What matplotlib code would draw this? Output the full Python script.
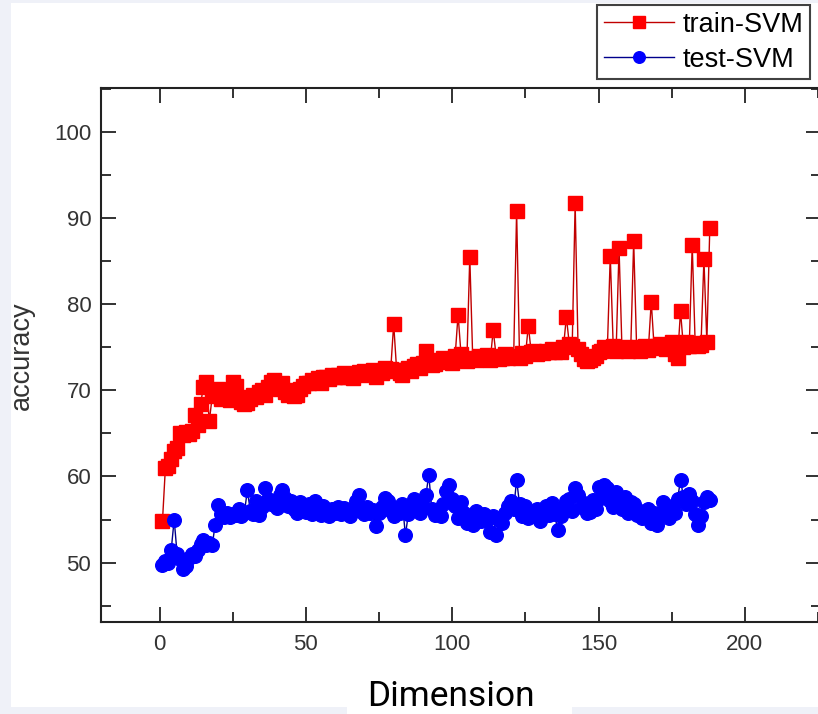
import matplotlib
matplotlib.use("Agg")
import matplotlib.pyplot as plt
from matplotlib.patches import Rectangle
from matplotlib.ticker import MultipleLocator

dimension = list(range(1, 189))

train_svm = [
    54.8, 61.0, 61.2, 62.0, 62.9, 63.3, 65.0, 64.8, 65.2, 64.9,
    65.3, 67.1, 66.0, 68.4, 70.4, 71.0, 66.4, 69.3, 69.8, 70.2,
    69.0, 70.0, 69.5, 68.9, 71.0, 70.5, 69.2, 68.6, 68.4, 68.5,
    69.0, 69.5, 69.2, 69.8, 70.0, 69.5, 70.4, 71.0, 71.2, 70.6,
    70.2, 70.8, 69.8, 69.5, 70.0, 69.3, 69.4, 70.2, 70.5, 70.8,
    70.9, 71.2, 71.0, 71.4, 70.9, 71.5, 71.6, 71.3, 71.8, 71.6,
    71.8, 71.6, 72.0, 71.5, 71.7, 71.4, 71.9, 72.1, 71.8, 72.3,
    71.9, 72.0, 72.4, 71.6, 72.2, 72.0, 72.6, 72.3, 72.5, 77.7,
    72.4, 72.0, 71.8, 72.4, 72.6, 72.2, 72.8, 73.0, 72.6, 73.2,
    74.6, 73.4, 72.9, 73.0, 73.5, 73.3, 73.8, 73.4, 73.6, 73.2,
    74.0, 78.8, 74.2, 73.6, 73.4, 85.5, 73.8, 73.5, 74.0, 73.6,
    73.9, 74.1, 73.5, 77.0, 74.0, 73.6, 73.8, 74.2, 73.7, 73.9,
    74.0, 90.8, 73.8, 74.3, 74.0, 77.5, 74.4, 74.6, 74.2, 74.5,
    74.3, 74.6, 74.4, 74.8, 74.5, 74.7, 74.4, 75.0, 78.5, 75.4,
    75.2, 91.7, 74.8, 74.2, 73.6, 73.4, 73.5, 73.8, 74.0, 74.4,
    74.6, 75.0, 74.8, 85.6, 75.2, 74.6, 86.5, 74.8, 75.0, 74.6,
    74.9, 87.3, 75.0, 74.6, 74.8, 75.1, 74.7, 80.3, 74.9, 75.2,
    75.4, 75.0, 74.8, 75.3, 75.6, 74.2, 73.8, 79.2, 75.0, 75.6,
    75.2, 86.9, 75.5, 75.1, 75.3, 85.2, 75.6, 88.8,
]

test_svm = [
    49.7, 50.2, 49.9, 51.5, 55.0, 51.0, 50.4, 49.2, 49.6, 50.5,
    51.0, 50.8, 51.5, 52.2, 52.6, 52.0, 52.3, 52.0, 54.4, 56.7,
    55.6, 55.3, 55.8, 55.3, 55.6, 55.5, 56.2, 55.4, 55.8, 58.4,
    56.0, 55.6, 57.2, 55.5, 56.5, 58.6, 57.4, 56.8, 57.0, 56.3,
    57.8, 58.4, 57.5, 56.6, 57.2, 56.2, 55.8, 57.0, 56.4, 55.9,
    56.8, 55.6, 57.2, 56.2, 55.5, 56.6, 56.0, 55.4, 56.2, 55.8,
    56.5, 55.6, 56.3, 55.9, 55.4, 56.2, 57.2, 57.9, 56.0, 55.6,
    56.4, 55.8, 56.1, 54.2, 55.8, 56.5, 57.5, 57.2, 56.0, 55.4,
    56.3, 55.7, 56.8, 53.2, 55.6, 56.2, 57.4, 57.0, 55.8, 56.6,
    57.8, 60.2, 56.2, 55.5, 56.0, 55.4, 56.8, 58.3, 59.0, 57.4,
    56.6, 55.2, 57.0, 55.8, 54.6, 55.2, 54.4, 56.0, 55.3, 54.8,
    55.6, 55.0, 53.6, 55.4, 53.2, 55.0, 54.6, 55.8, 56.6, 57.2,
    56.2, 59.6, 56.8, 55.4, 56.6, 55.2, 55.9, 55.4, 56.2, 54.8,
    56.0, 56.6, 55.5, 56.9, 55.6, 53.8, 55.4, 56.2, 57.2, 57.4,
    56.0, 58.7, 57.8, 56.4, 56.9, 55.8, 55.9, 57.3, 56.2, 58.8,
    57.5, 59.0, 58.6, 57.2, 56.4, 58.2, 57.4, 56.2, 57.6, 55.8,
    57.0, 56.8, 55.5, 56.0, 55.2, 55.4, 56.2, 54.6, 55.8, 54.4,
    55.6, 57.0, 56.4, 55.2, 56.6, 55.8, 57.4, 59.6, 57.6, 56.8,
    58.0, 57.2, 55.6, 54.4, 55.4, 57.0, 57.6, 57.3,
]

series_labels = ["train-SVM", "test-SVM"]
x_label = "Dimension"
y_label = "accuracy"
x_ticks = [0, 50, 100, 150, 200]
y_ticks = [50, 60, 70, 80, 90, 100]

W, H = 818, 714
fig = plt.figure(figsize=(W / 100, H / 100), dpi=100)
fig.patch.set_facecolor("#eff1f8")
bg = Rectangle((11 / W, 7 / H), (W - 11) / W, 704 / H,
               transform=fig.transFigure, facecolor="white",
               edgecolor="none", zorder=-10)
fig.add_artist(bg)
label_box = Rectangle((347 / W, 0), (572 - 347) / W, 12 / H,
                      transform=fig.transFigure, facecolor="white",
                      edgecolor="none", zorder=-9)
fig.add_artist(label_box)

ax = fig.add_axes([101 / W, (H - 622) / H, (821 - 101) / W, (622 - 88) / H])
ax.set_facecolor("white")
ax.set_zorder(1)

ax.plot(dimension, train_svm, color="#c00000", lw=1.0, marker="s", ms=9.5,
        mfc="#ff0000", mec="#ff0000", label=series_labels[0], zorder=3)
ax.plot(dimension, test_svm, color="#00008c", lw=1.0, marker="o", ms=9.8,
        mfc="#0000ff", mec="#0000ff", label=series_labels[1], zorder=3)

ax.set_xlim(-20, 226)
ax.set_ylim(43.1, 105.1)
ax.set_xticks(x_ticks)
ax.set_yticks(y_ticks)
ax.xaxis.set_minor_locator(MultipleLocator(25))
ax.yaxis.set_minor_locator(MultipleLocator(5))
ax.tick_params(which="both", direction="in", top=True, right=True,
               width=1.3, colors="#222222", labelcolor="#333333")
ax.tick_params(which="major", length=11, labelsize=16, pad=7)
ax.tick_params(which="minor", length=7)
for lab in ax.get_xticklabels() + ax.get_yticklabels():
    lab.set_family(["Liberation Sans", "DejaVu Sans"])
ax.tick_params(axis="x", which="major", pad=9)
for sp in ax.spines.values():
    sp.set_linewidth(1.5)
    sp.set_color("#222222")
ax.spines["right"].set_visible(False)

ax.set_ylabel(y_label, fontsize=19.5, color="#333333",
              family=["Liberation Sans", "DejaVu Sans"])
ax.yaxis.set_label_coords((35 - 101) / (821 - 101), (622 - 356) / (622 - 88))

fig.text(451 / W, (H - 706) / H, x_label, fontsize=25.5, family=["Roboto", "DejaVu Sans"],
         color="black", ha="center", va="baseline", zorder=5)

leg = ax.legend(loc="upper left", bbox_to_anchor=(597 / W, (H - 5) / H),
                bbox_transform=fig.transFigure, borderaxespad=0,
                prop={"family": ["Liberation Sans", "DejaVu Sans"], "size": 19.5},
                frameon=True, fancybox=False, edgecolor="#111111",
                borderpad=0.25, labelspacing=0.33, handlelength=2.6,
                handletextpad=0.3, markerscale=0.85)
leg.get_frame().set_linewidth(1.5)

fig.savefig("out.png", dpi=100, facecolor=fig.get_facecolor())
